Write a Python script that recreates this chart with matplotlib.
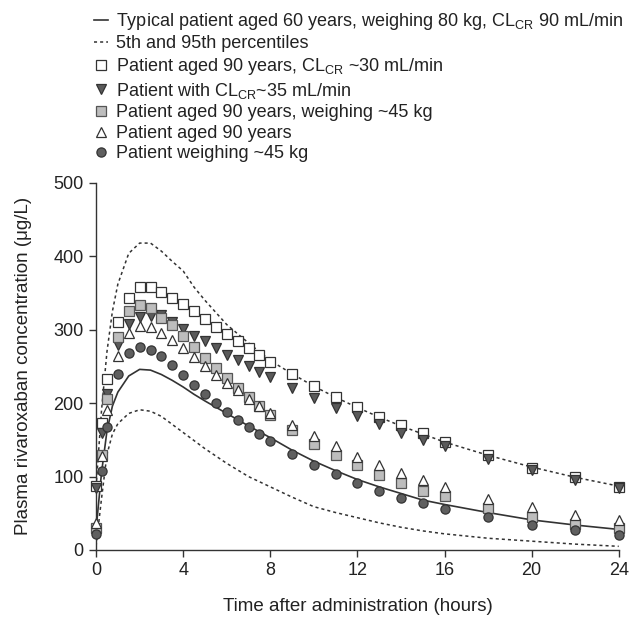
import matplotlib
matplotlib.use("Agg")
import matplotlib.pyplot as plt

plt.rcParams['font.family'] = ['Liberation Sans', 'DejaVu Sans']
plt.rcParams['mathtext.fontset'] = 'custom'
plt.rcParams['mathtext.rm'] = 'Liberation Sans'
plt.rcParams['mathtext.it'] = 'Liberation Sans'

# time points of the simulated patients (hours)
t_pts = [0, 0.25, 0.5, 1, 1.5, 2, 2.5, 3, 3.5, 4, 4.5, 5, 5.5, 6, 6.5, 7, 7.5, 8,
         9, 10, 11, 12, 13, 14, 15, 16, 18, 20, 22, 24]

old_crcl30 = [87, 173, 233, 311, 343, 358, 358, 352, 343, 335, 325, 314, 304, 294, 285, 275, 265, 256,
              240, 223, 209, 195, 181, 170, 159, 147, 129, 112, 99, 86]
crcl35 = [85, 159, 212, 279, 308, 317, 319, 320, 310, 301, 292, 284, 275, 266, 259, 250, 242, 235,
          220, 207, 194, 183, 171, 160, 150, 142, 124, 109, 95, 84]
old_45kg = [30, 130, 205, 290, 325, 334, 330, 316, 307, 292, 276, 261, 248, 234, 220, 209, 196, 184,
            164, 145, 130, 116, 102, 91, 81, 73, 57, 45, 35, 30]
old = [37, 128, 190, 264, 295, 305, 304, 295, 286, 275, 263, 250, 239, 227, 218, 206, 196, 186,
       170, 155, 141, 127, 116, 105, 95, 86, 70, 59, 48, 41]
w45kg = [22, 108, 168, 240, 268, 276, 273, 264, 252, 238, 225, 213, 200, 188, 177, 167, 158, 149,
         131, 116, 103, 91, 80, 71, 64, 56, 45, 34, 27, 21]

# typical patient and percentiles
t_line = [0, 0.25, 0.5, 0.75, 1, 1.5, 2, 2.5, 3, 3.5, 4, 4.5, 5, 6, 7, 8, 9, 10, 11, 12, 13, 14,
          15, 16, 18, 20, 22, 24]
typical = [28, 105, 162, 196, 215, 237, 246, 245, 239, 231, 222, 212, 203, 186, 169, 153, 136, 121,
           108, 96, 86, 77, 68, 62, 51, 41, 34, 28]
p95 = [86, 190, 270, 325, 362, 404, 418, 418, 407, 393, 380, 358, 340, 307, 282, 258, 240, 223,
       208, 194, 181, 169, 158, 147, 129, 113, 99, 87]
p5 = [5, 70, 130, 158, 172, 186, 191, 189, 182, 171, 160, 149, 138, 118, 100, 86, 72, 59,
      51, 44, 37, 31, 26, 22, 16, 12, 8, 5]

fig = plt.figure(figsize=(6.32, 6.17), dpi=100)
ax = fig.add_axes([0.152, 0.1086, 0.827, 0.595])

dark = '#333333'
ax.plot(t_line, typical, '-', color=dark, lw=1.2, zorder=2,
        label=r'Typical patient aged 60 years, weighing 80 kg, CL$_{\mathrm{CR}}$ 90 mL/min')
ax.plot(t_line, p95, color=dark, lw=1.1, ls=(0, (2, 2)), zorder=2,
        label='5th and 95th percentiles')
ax.plot(t_line, p5, color=dark, lw=1.1, ls=(0, (2, 2)), zorder=2)

ms = 6.6
kw = dict(ls='none', ms=ms, mew=0.9, clip_on=False, zorder=3)
ax.plot(t_pts, old_crcl30, marker='s', mfc='white', mec=dark,
        label=r'Patient aged 90 years, CL$_{\mathrm{CR}}$ ~30 mL/min', **kw)
ax.plot(t_pts, crcl35, marker='v', mfc='#5a5a5a', mec=dark,
        label=r'Patient with CL$_{\mathrm{CR}}$~35 mL/min', **kw)
ax.plot(t_pts, old_45kg, marker='s', mfc='#bdbdbd', mec='#555555',
        label='Patient aged 90 years, weighing ~45 kg', **kw)
ax.plot(t_pts, old, marker='^', mfc='white', mec=dark,
        label='Patient aged 90 years', **kw)
ax.plot(t_pts, w45kg, marker='o', mfc='#5f5f5f', mec=dark,
        label='Patient weighing ~45 kg', **kw)

ax.set_xlim(0, 24)
ax.set_ylim(0, 500)
ax.set_xticks(range(0, 25, 4))
ax.set_yticks(range(0, 501, 100))
for s in ['top', 'right']:
    ax.spines[s].set_visible(False)
for s in ['left', 'bottom']:
    ax.spines[s].set_color(dark)
    ax.spines[s].set_linewidth(1.0)
ax.tick_params(direction='out', length=5, width=1.0, color=dark, labelsize=13,
               labelcolor='#222222', pad=4)
ax.set_xlabel('Time after administration (hours)', fontsize=13.5, color='#222222', labelpad=13)
ax.set_ylabel('Plasma rivaroxaban concentration (\u03bcg/L)', fontsize=13.5, color='#222222',
              labelpad=15)

fig.legend(loc='upper left', bbox_to_anchor=(0.132, 1.0), frameon=False, fontsize=13,
           handlelength=0.75, handletextpad=0.45, labelspacing=0.2, borderaxespad=0.2,
           labelcolor='#222222')

fig.savefig('out.png', dpi=100)
